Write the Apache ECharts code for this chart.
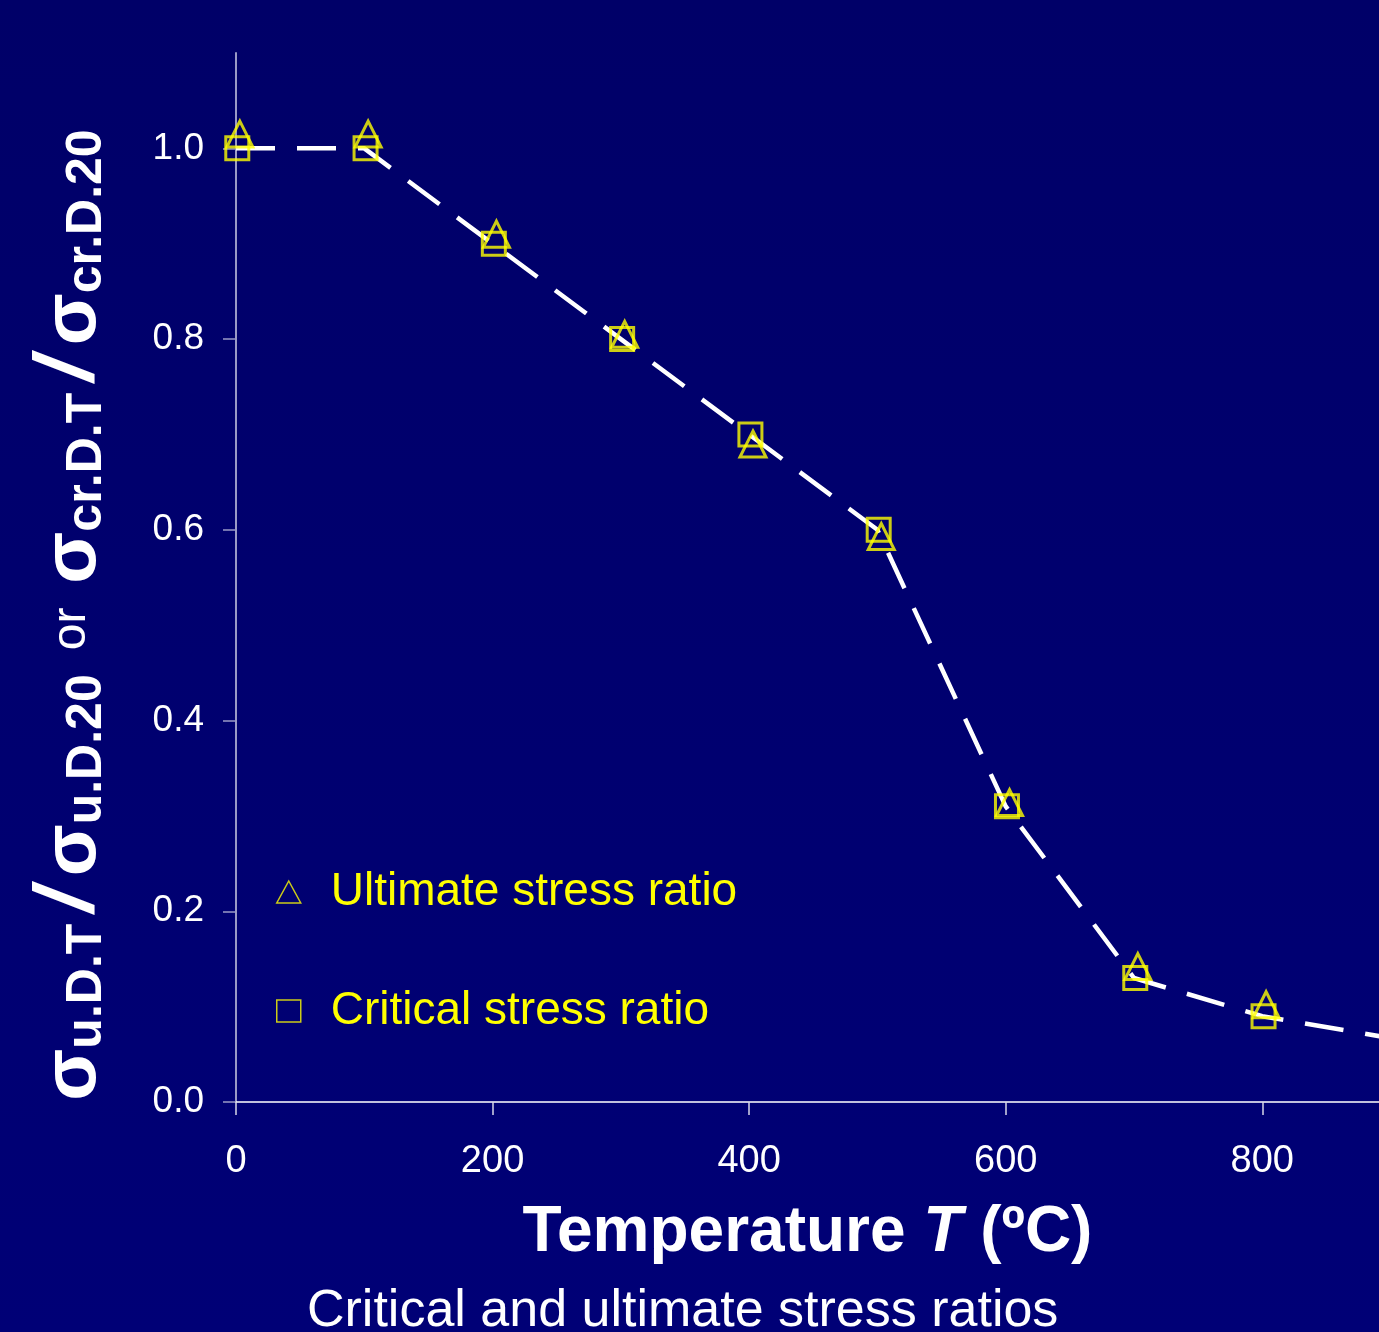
<!DOCTYPE html>
<html>
<head>
<meta charset="utf-8">
<script src="https://cdn.jsdelivr.net/npm/echarts@6/dist/echarts.min.js"></script>
<style>
  html, body { margin: 0; padding: 0; background: #00006c; }
  #chart { width: 1379px; height: 1332px; }
</style>
</head>
<body>
<div id="chart"></div>
<script>
// 温度 (ºC) 与两种强度比值
const tempCritical = [1, 101, 201, 301, 401, 501, 601, 701, 801];
const critical = [1.0, 1.0, 0.9, 0.8, 0.7, 0.6, 0.31, 0.13, 0.09];

const tempUltimate = [3, 103, 203, 303, 403, 503, 603, 703, 803];
const ultimate = [1.015, 1.015, 0.91, 0.805, 0.69, 0.593, 0.314, 0.142, 0.102];

// 虚线拟合曲线
const curveTemp = [0, 100, 200, 300, 400, 500, 600, 700, 800, 900];
const curveRatio = [1.0, 1.0, 0.9, 0.8, 0.7, 0.6, 0.31, 0.13, 0.09, 0.067];

const xTicks = [0, 200, 400, 600, 800];
const yTicks = [0, 0.2, 0.4, 0.6, 0.8, 1.0];

const seriesNames = ['Ultimate stress ratio', 'Critical stress ratio'];

const zip = (xs, ys) => xs.map((x, i) => [x, ys[i]]);

const chart = echarts.init(document.getElementById('chart'));

const FONT = 'Liberation Sans';
const YELLOW = '#ffff00';

const option = {
    animation: false,
    backgroundColor: {
        type: 'linear', x: 0, y: 0, x2: 0, y2: 1,
        colorStops: [
            { offset: 0, color: '#000068' },
            { offset: 1, color: '#000076' }
        ]
    },
    grid: {
        left: 236,
        top: 53,
        bottom: 230,
        right: 0
    },
    title: {
        text: 'Critical and ultimate stress ratios',
        left: 307,
        top: 1286,
        padding: 0,
        textStyle: {
            color: '#ffffff',
            fontFamily: FONT,
            fontWeight: 'normal',
            fontSize: 52
        }
    },
    legend: {
        orient: 'vertical',
        left: 276,
        top: 869,
        padding: 0,
        itemGap: 73,
        itemWidth: 24,
        itemHeight: 22,
        textStyle: {
            color: YELLOW,
            fontFamily: FONT,
            fontSize: 46,
            padding: [0, 0, 0, 25]
        },
        data: [
            {
                name: seriesNames[0],
                icon: 'triangle',
                itemStyle: { color: 'rgba(0,0,0,0)', borderColor: YELLOW, borderWidth: 1.5 }
            },
            {
                name: seriesNames[1],
                icon: 'rect',
                itemStyle: { color: 'rgba(0,0,0,0)', borderColor: YELLOW, borderWidth: 1.5 }
            }
        ]
    },
    xAxis: {
        type: 'value',
        min: 0,
        max: 891,
        interval: 200,
        name: '{b|Temperature }{i|T}{b| (ºC)}',
        nameLocation: 'middle',
        nameGap: 99,
        nameTextStyle: {
            rich: {
                b: { color: '#fff', fontFamily: FONT, fontWeight: 'bold', fontSize: 64 },
                i: { color: '#fff', fontFamily: FONT, fontWeight: 'bold', fontStyle: 'italic', fontSize: 64 }
            }
        },
        splitLine: { show: false },
        axisLine: { onZero: false, lineStyle: { color: '#ffffff', width: 1.5 } },
        axisTick: {
            customValues: xTicks,
            length: 13,
            lineStyle: { color: '#d8d8e8', width: 1.5 }
        },
        axisLabel: {
            customValues: xTicks,
            color: '#ffffff',
            fontFamily: FONT,
            fontSize: 38,
            margin: 41
        }
    },
    yAxis: {
        type: 'value',
        min: 0,
        max: 1.1,
        interval: 0.2,
        splitLine: { show: false },
        axisLine: { show: true, onZero: false, lineStyle: { color: '#9a9ac6', width: 2 } },
        axisTick: {
            show: true,
            customValues: yTicks,
            length: 13,
            lineStyle: { color: '#9a9ac6', width: 1.5 }
        },
        axisLabel: {
            customValues: yTicks,
            color: '#ffffff',
            fontFamily: FONT,
            fontSize: 37,
            margin: 32,
            formatter: v => v.toFixed(1)
        }
    },
    graphic: [
        {
            type: 'text',
            x: 70,
            y: 615,
            rotation: Math.PI / 2,
            style: {
                text: '{s|σ}{u|u.D.T}{sl|/}{s|σ}{u|u.D.20}{o|or}{s|σ}{u|cr.D.T}{sl|/}{s|σ}{u|cr.D.20}',
                align: 'center',
                verticalAlign: 'middle',
                fill: '#fff',
                rich: {
                    s: { fontFamily: FONT, fontWeight: 'bold', fontSize: 76, fill: '#fff', verticalAlign: 'bottom' },
                    u: { fontFamily: FONT, fontWeight: 'bold', fontSize: 50, fill: '#fff', verticalAlign: 'bottom' },
                    sl: { fontFamily: FONT, fontWeight: 'bold', fontStyle: 'italic', fontSize: 84, fill: '#fff', verticalAlign: 'bottom', padding: [0, 12, 0, 12] },
                    o: { fontFamily: FONT, fontSize: 48, fill: '#fff', verticalAlign: 'bottom', padding: [0, 24, 16, 24] }
                }
            }
        }
    ],
    series: [
        {
            name: 'curve',
            type: 'line',
            data: zip(curveTemp, curveRatio),
            showSymbol: false,
            symbol: 'none',
            z: 1,
            clip: true,
            lineStyle: { color: '#ffffff', width: 4.5, type: [39, 22], cap: 'butt' }
        },
        {
            name: seriesNames[0],
            type: 'scatter',
            data: zip(tempUltimate, ultimate),
            symbol: 'triangle',
            symbolSize: [26, 26],
            z: 3,
            itemStyle: { color: 'rgba(0,0,0,0)', borderColor: YELLOW, borderWidth: 3 }
        },
        {
            name: seriesNames[1],
            type: 'scatter',
            data: zip(tempCritical, critical),
            symbol: 'rect',
            symbolSize: [23, 23],
            z: 3,
            itemStyle: { color: 'rgba(0,0,0,0)', borderColor: YELLOW, borderWidth: 3 }
        }
    ]
};

chart.setOption(option);
</script>
</body>
</html>
